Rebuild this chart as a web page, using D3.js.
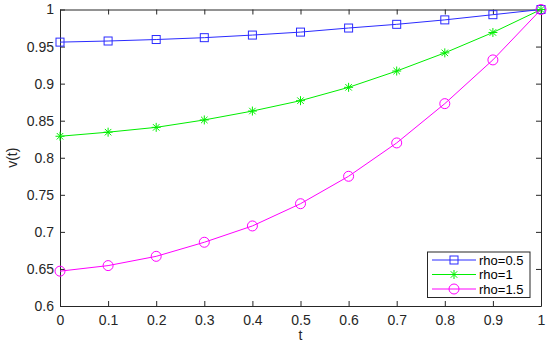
<!DOCTYPE html>
<html><head><meta charset="utf-8">
<script src="https://cdn.jsdelivr.net/npm/d3@7"></script>
<style>body{margin:0;background:#fff}svg{display:block}text{font-family:"Liberation Sans",Arial,sans-serif}</style>
</head><body>
<svg id="c" width="550" height="345"></svg>
<script>
const tValues = [0,0.1,0.2,0.3,0.4,0.5,0.6,0.7,0.8,0.9,1];
const rho05 = [0.956,0.9575,0.9595,0.962,0.9655,0.9695,0.975,0.980,0.986,0.993,1];
const rho1  = [0.829,0.8345,0.841,0.851,0.863,0.877,0.895,0.917,0.9415,0.969,1];
const rho15 = [0.647,0.6545,0.667,0.686,0.708,0.738,0.775,0.820,0.873,0.932,1];
const seriesNames = ["rho=0.5","rho=1","rho=1.5"];
const xTicks = [0,0.1,0.2,0.3,0.4,0.5,0.6,0.7,0.8,0.9,1];
const yTicks = [0.6,0.65,0.7,0.75,0.8,0.85,0.9,0.95,1];

const svg = d3.select("#c");
const L=60,R=541,T=9.5,B=306;
const x = d3.scaleLinear().domain([0,1]).range([L,R]);
const y = d3.scaleLinear().domain([0.6,1]).range([B,T]);
const axisCol="#262626";

const series = [
  {name:seriesNames[0], vals:rho05, color:"#2b2bff", marker:"square"},
  {name:seriesNames[1], vals:rho1, color:"#00ee00", marker:"star"},
  {name:seriesNames[2], vals:rho15, color:"#ff00ff", marker:"circle"}
];

function drawMarker(g, type, cx, cy, color){
  if(type==="square"){
    g.append("rect").attr("x",cx-4).attr("y",cy-4).attr("width",8).attr("height",8)
      .attr("fill","none").attr("stroke",color).attr("stroke-width",1);
  } else if(type==="circle"){
    g.append("circle").attr("cx",cx).attr("cy",cy).attr("r",5)
      .attr("fill","none").attr("stroke",color).attr("stroke-width",1);
  } else {
    const r=4.5;
    [[r,0],[0,r],[r*0.72,r*0.72],[r*0.72,-r*0.72]].forEach(([dx,dy])=>{
      g.append("line").attr("x1",cx-dx).attr("y1",cy-dy).attr("x2",cx+dx).attr("y2",cy+dy)
        .attr("stroke",color).attr("stroke-width",1);
    });
  }
}

const FS="14px";
const xAxis = d3.axisBottom(x).tickValues(xTicks).tickFormat(d3.format("")).tickSizeInner(-5).tickSizeOuter(0).tickPadding(9);
const yAxis = d3.axisLeft(y).tickValues(yTicks).tickFormat(d3.format("")).tickSizeInner(-5).tickSizeOuter(0).tickPadding(6);
const xTop = d3.axisTop(x).tickValues(xTicks).tickFormat("").tickSizeInner(-5).tickSizeOuter(0);
const yRight = d3.axisRight(y).tickValues(yTicks).tickFormat("").tickSizeInner(-5).tickSizeOuter(0);

function style(g){
  g.selectAll("path").attr("stroke",axisCol).attr("stroke-width",1);
  g.selectAll("line").attr("stroke",axisCol).attr("stroke-width",1);
  g.selectAll("text").attr("fill",axisCol).style("font-size",FS).style("font-family","'Liberation Sans',Arial,sans-serif");
}
style(svg.append("g").attr("transform",`translate(0,${B})`).call(xAxis));
style(svg.append("g").attr("transform",`translate(${L},0)`).call(yAxis));
style(svg.append("g").attr("transform",`translate(0,${T})`).call(xTop));
style(svg.append("g").attr("transform",`translate(${R},0)`).call(yRight));

const line = d3.line().x((d,i)=>x(tValues[i])).y(d=>y(d));
series.forEach(s=>{
  svg.append("path").datum(s.vals).attr("d",line).attr("fill","none").attr("stroke",s.color).attr("stroke-width",1);
  const g=svg.append("g");
  s.vals.forEach((v,i)=>drawMarker(g,s.marker,x(tValues[i]),y(v),s.color));
});

svg.append("text").attr("x",(L+R)/2).attr("y",340).attr("text-anchor","middle").attr("fill",axisCol).style("font-size",FS).text("t");
svg.append("text").attr("transform",`translate(17,${(T+B)/2}) rotate(-90)`).attr("text-anchor","middle").attr("fill",axisCol).style("font-size",FS).text("v(t)");

const lg = svg.append("g");
lg.append("rect").attr("x",427.5).attr("y",252).attr("width",102.5).attr("height",45.5).attr("fill","#fff").attr("stroke",axisCol).attr("stroke-width",1);
series.forEach((s,i)=>{
  const yy=260+i*14.5;
  lg.append("line").attr("x1",432).attr("x2",476).attr("y1",yy).attr("y2",yy).attr("stroke",s.color).attr("stroke-width",1);
  drawMarker(lg,s.marker,454,yy,s.color);
  lg.append("text").attr("x",479).attr("y",yy+4.5).attr("fill","#000").style("font-size","13px").text(s.name);
});
</script>
</body></html>
